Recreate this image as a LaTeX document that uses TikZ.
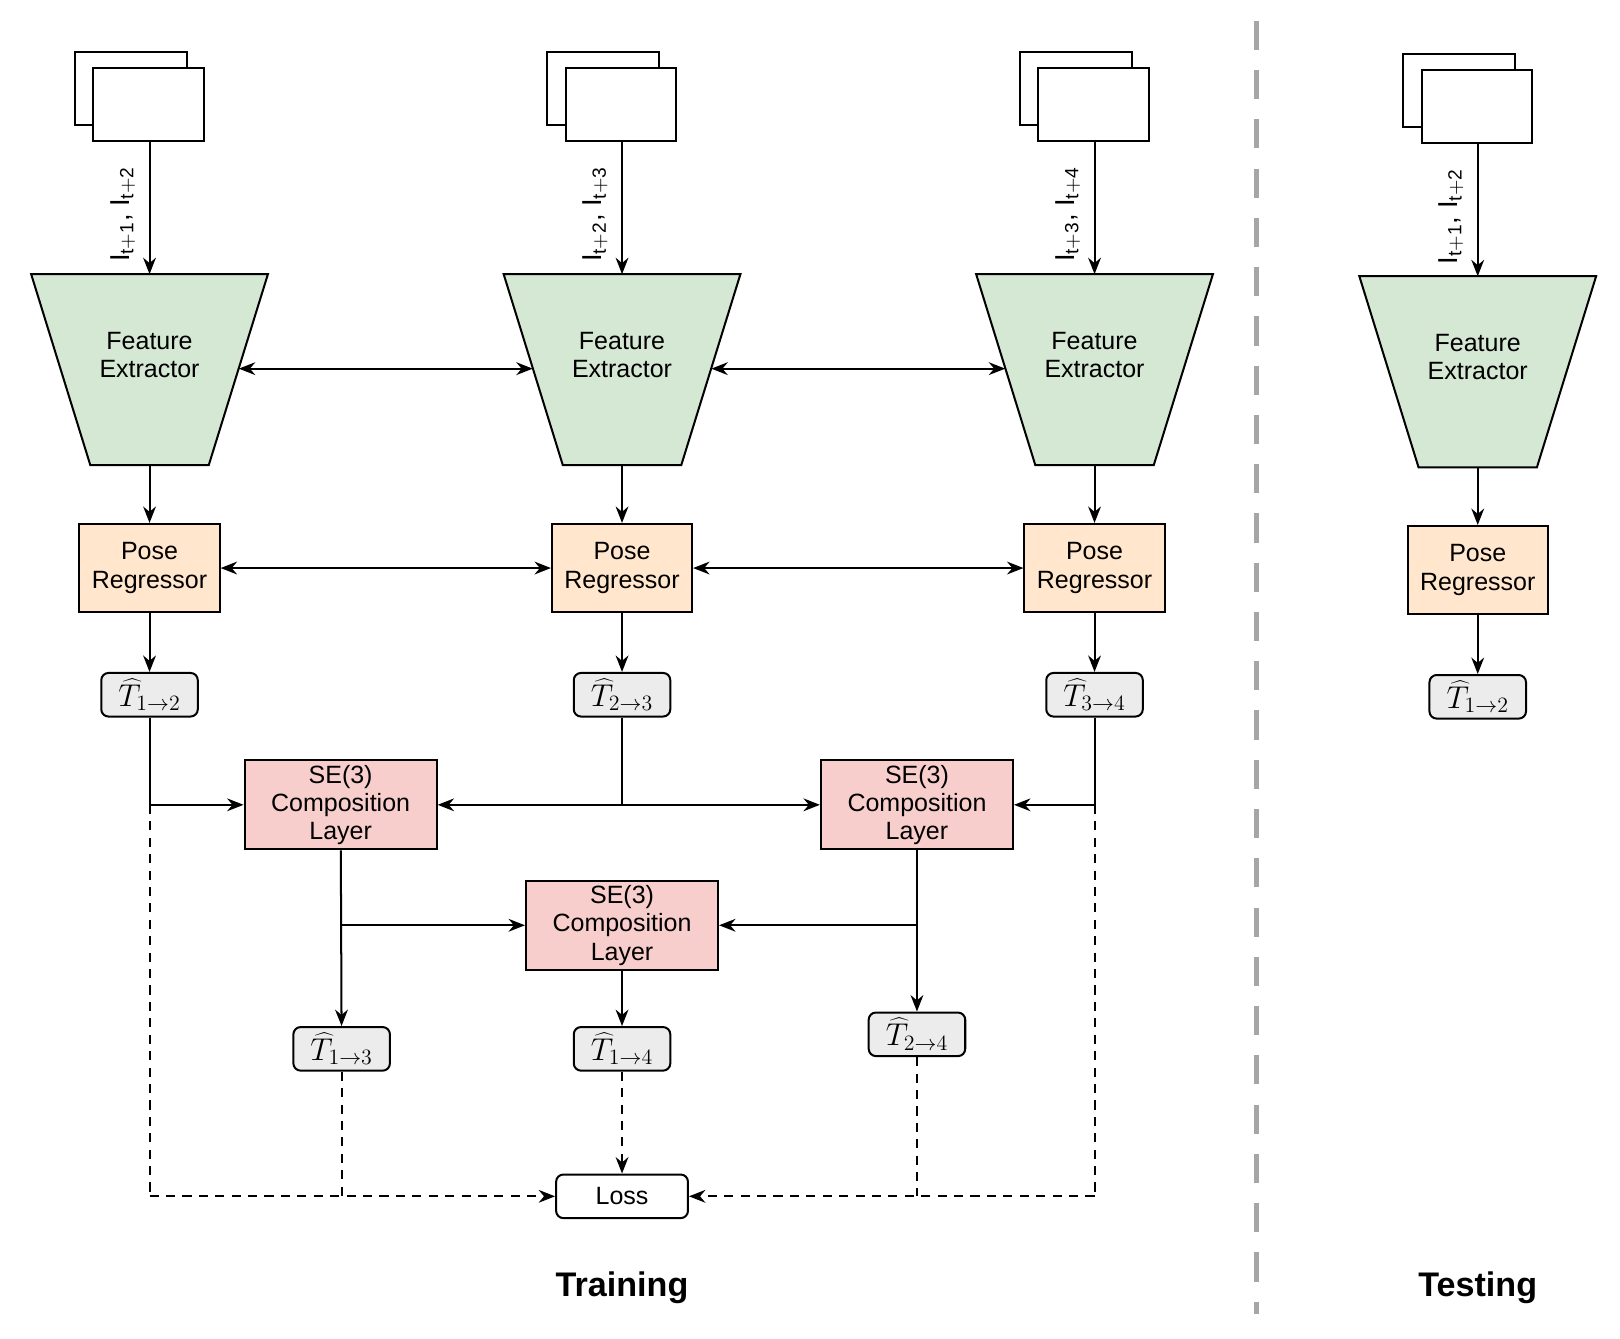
\documentclass[tikz,border=0pt]{standalone}
\usepackage{fontspec}
\setmainfont{Liberation Sans}
\usetikzlibrary{arrows.meta}
\begin{document}
\begin{tikzpicture}[x=0.02cm,y=-0.02cm,line width=1.1pt,
  every node/.style={font=\fontsize{13.7}{15.5}\selectfont},
  arr/.style={-{Stealth[length=9pt,width=7pt]}},
  barr/.style={{Stealth[length=9pt,width=7pt]}-{Stealth[length=9pt,width=7pt]}},
  dsh/.style={dash pattern=on 5pt off 4pt},
  img/.style={draw,fill=white},
  fe/.style={draw},
  pose/.style={draw,minimum width=2.7cm,minimum height=1.7cm,align=center,inner sep=0pt},
  tb/.style={draw,rounded corners=4pt,fill=gray!15,minimum width=1.86cm,minimum height=0.84cm,inner sep=0pt,font=\fontsize{17}{18}\selectfont},
  se/.style={draw,minimum width=3.7cm,minimum height=1.72cm,align=center,inner sep=0pt},
  lbl/.style={rotate=90,anchor=south,font=\fontsize{15}{16}\selectfont}]
\definecolor{feg}{HTML}{D5E8D4}
\definecolor{pg}{HTML}{FFE6CC}
\definecolor{sg}{HTML}{F8CECC}
\useasboundingbox (0,0) rectangle (1560,1289);
\foreach \c/\n/\yo/\lab in {144/a/0/{I$_{\mathrm{t+1}}$, I$_{\mathrm{t+2}}$},599/b/0/{I$_{\mathrm{t+2}}$, I$_{\mathrm{t+3}}$},1054/c/0/{I$_{\mathrm{t+3}}$, I$_{\mathrm{t+4}}$},1423/d/2/{I$_{\mathrm{t+1}}$, I$_{\mathrm{t+2}}$}}{
  \draw[img] (\c-72,50+\yo) rectangle (\c+36,120+\yo);
  \draw[img] (\c-54,65+\yo) rectangle (\c+52,136+\yo);
  \coordinate (im\n) at (\c,136+\yo);
  \draw[fe,fill=feg] (\c-114,264+\yo) -- (\c+114,264+\yo) -- (\c+57,448+\yo) -- (\c-57,448+\yo) -- cycle;
  \node[align=center] (fe\n) at (\c,342+\yo) {Feature\\Extractor};
  \coordinate (fet\n) at (\c,264+\yo);
  \coordinate (feb\n) at (\c,448+\yo);
  \coordinate (fel\n) at (\c-86,355+\yo);
  \coordinate (fer\n) at (\c+86,355+\yo);
  \draw[arr] (im\n) -- node[lbl,pos=0.55,yshift=4pt] {\lab} (fet\n);
  \node[pose,fill=pg] (p\n) at (\c,547+\yo) {Pose\\Regressor};
  \draw[arr] (feb\n) -- (p\n);
}
\node[tb] (ta) at (144,669) {$\widehat{T}_{1\to2}$};
\node[tb] (tb) at (599,669) {$\widehat{T}_{2\to3}$};
\node[tb] (tc) at (1054,669) {$\widehat{T}_{3\to4}$};
\node[tb] (td) at (1423,671) {$\widehat{T}_{1\to2}$};
\foreach \n in {a,b,c,d} \draw[arr] (p\n) -- (t\n);
\draw[barr] (fera) -- (felb);
\draw[barr] (ferb) -- (felc);
\draw[barr] (pa) -- (pb);
\draw[barr] (pb) -- (pc);
\node[se,fill=sg] (s1) at (328,775) {SE(3)\\Composition\\Layer};
\node[se,fill=sg] (s2) at (883,775) {SE(3)\\Composition\\Layer};
\node[se,fill=sg] (s3) at (599,891) {SE(3)\\Composition\\Layer};
\coordinate (ja) at (144,775);
\coordinate (jb) at (599,775);
\coordinate (jc) at (1054,775);
\draw (ta) -- (ja); \draw[arr] (ja) -- (s1);
\draw (tb) -- (jb); \draw[arr] (jb) -- (s1); \draw[arr] (jb) -- (s2);
\draw (tc) -- (jc); \draw[arr] (jc) -- (s2);
\node[tb] (t13) at (329,1010) {$\widehat{T}_{1\to3}$};
\node[tb] (t14) at (599,1010) {$\widehat{T}_{1\to4}$};
\node[tb] (t24) at (883,996) {$\widehat{T}_{2\to4}$};
\coordinate (k1) at (329,891);
\coordinate (k2) at (883,891);
\draw[arr] (s1) -- (t13);
\draw[arr] (s2) -- (t24);
\draw[arr] (k1) -- (s3);
\draw[arr] (k2) -- (s3);
\draw[arr] (s3) -- (t14);
\node[draw,rounded corners=4pt,minimum width=2.54cm,minimum height=0.84cm] (loss) at (599,1152) {Loss};
\coordinate (la) at (144,1152);
\coordinate (lb) at (1054,1152);
\draw[dsh] (ja) -- (la);
\draw[dsh,arr] (la) -- (loss);
\draw[dsh] (t13) -- (329,1152);
\draw[dsh,arr] (t14) -- (loss);
\draw[dsh] (t24) -- (883,1152);
\draw[dsh] (jc) -- (lb);
\draw[dsh,arr] (lb) -- (loss);
\draw[gray!70,line width=2.6pt,dash pattern=on 16pt off 11pt] (1210,20) -- (1210,1265);
\node[font=\fontsize{18.7}{20}\selectfont\bfseries] (tr) at (599,1240) {Training};
\node[font=\fontsize{18.7}{20}\selectfont\bfseries] (te) at (1423,1240) {Testing};
\end{tikzpicture}
\end{document}
